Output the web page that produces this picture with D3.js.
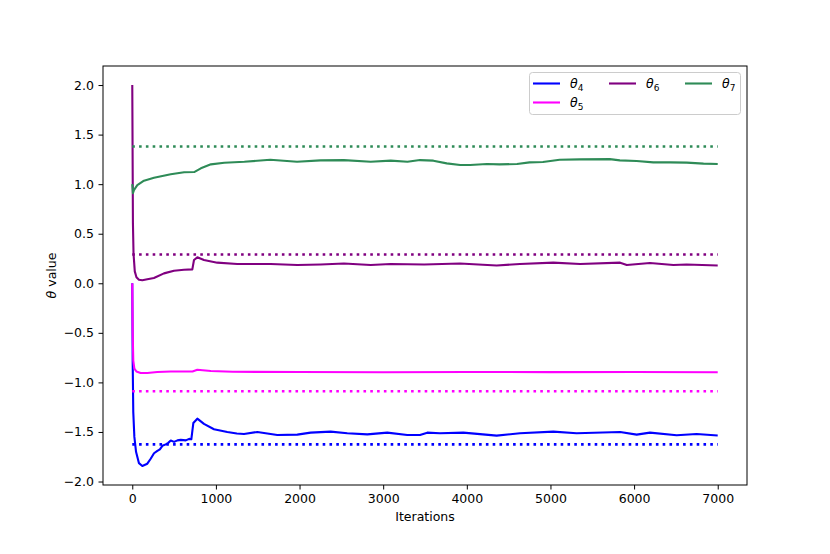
<!DOCTYPE html>
<html><head><meta charset="utf-8">
<script src="https://cdn.jsdelivr.net/npm/d3@7/dist/d3.min.js"></script>
<style>body{margin:0;background:#fff;} svg{display:block;font-family:"DejaVu Sans",sans-serif;}</style>
</head><body>
<script>
// iterations and values for each parameter trace
const theta4 = [[0,0.0],[5,-0.8],[12,-1.3],[25,-1.55],[45,-1.70],[80,-1.815],[120,-1.843],[180,-1.82],[220,-1.77],[260,-1.715],[300,-1.69],[330,-1.675],[360,-1.64],[400,-1.625],[430,-1.61],[460,-1.587],[500,-1.60],[540,-1.585],[580,-1.58],[640,-1.585],[680,-1.57],[706,-1.574],[730,-1.41],[778,-1.366],[857,-1.419],[977,-1.473],[1136,-1.50],[1250,-1.515],[1336,-1.52],[1495,-1.50],[1734,-1.53],[1973,-1.527],[2133,-1.507],[2372,-1.497],[2571,-1.513],[2810,-1.524],[3049,-1.507],[3288,-1.53],[3440,-1.53],[3527,-1.507],[3679,-1.513],[3958,-1.507],[4357,-1.537],[4635,-1.513],[5034,-1.497],[5313,-1.513],[5833,-1.50],[6031,-1.527],[6190,-1.507],[6509,-1.533],[6747,-1.52],[7000,-1.535]];
const theta5 = [[0,0.0],[5,-0.5],[12,-0.78],[25,-0.86],[50,-0.89],[100,-0.905],[180,-0.905],[300,-0.895],[460,-0.89],[720,-0.89],[778,-0.872],[940,-0.885],[1200,-0.893],[2000,-0.895],[3000,-0.897],[4000,-0.895],[5000,-0.896],[6000,-0.895],[7000,-0.897]];
const theta6 = [[0,2.0],[8,0.6],[15,0.3],[30,0.12],[50,0.06],[80,0.035],[120,0.03],[180,0.04],[259,0.053],[379,0.10],[499,0.127],[618,0.137],[718,0.14],[738,0.235],[778,0.262],[857,0.235],[1016,0.208],[1255,0.195],[1655,0.195],[1973,0.185],[2253,0.19],[2531,0.20],[2850,0.185],[3089,0.195],[3490,0.19],[3918,0.20],[4357,0.18],[4635,0.195],[5034,0.208],[5355,0.195],[5833,0.208],[5913,0.185],[6190,0.205],[6470,0.185],[6628,0.19],[7000,0.18]];
const theta7 = [[0,1.0],[8,0.91],[20,0.94],[60,0.99],[140,1.035],[260,1.065],[460,1.10],[620,1.12],[740,1.122],[820,1.16],[940,1.20],[1100,1.216],[1340,1.226],[1650,1.247],[1970,1.226],[2250,1.24],[2530,1.243],[2850,1.226],[3090,1.237],[3290,1.226],[3440,1.243],[3600,1.237],[3760,1.21],[3920,1.193],[4040,1.193],[4240,1.203],[4390,1.20],[4600,1.203],[4750,1.22],[4910,1.223],[5110,1.247],[5350,1.25],[5710,1.253],[5830,1.24],[6030,1.233],[6230,1.22],[6430,1.22],[6630,1.217],[6830,1.207],[7000,1.203]];
const trueValues = [-1.625, -1.09, 0.29, 1.38];
const seriesNames = ["4","5","6","7"];
const seriesColors = ["#0000ff","#ff00ff","#800080","#2e8b57"];
const xTicks = [0,1000,2000,3000,4000,5000,6000,7000];
const yTicks = [-2.0,-1.5,-1.0,-0.5,0.0,0.5,1.0,1.5,2.0];
const xExtent = [0, 7000];

const W = 830, H = 554;
const L = 103, R = 747, T = 66, B = 485;
const svg = d3.select("body").append("svg").attr("width", W).attr("height", H);

const all = [theta4,theta5,theta6,theta7];
const ymin = d3.min(all, s => d3.min(s, d => d[1]));
const ymax = d3.max(all, s => d3.max(s, d => d[1]));
const yr = ymax - ymin;
const xr = xExtent[1] - xExtent[0];
const x = d3.scaleLinear().domain([xExtent[0] - 0.05*xr, xExtent[1] + 0.05*xr]).range([L, R]);
const y = d3.scaleLinear().domain([ymin - 0.05*yr, ymax + 0.05*yr]).range([B, T]);

const fmtY = d => d3.format(".1f")(d).replace("-", "\u2212");

const gx = svg.append("g").attr("transform", `translate(0,${B})`)
  .call(d3.axisBottom(x).tickValues(xTicks).tickFormat(d3.format("d")).tickSize(4.5).tickPadding(4.5));
const gy = svg.append("g").attr("transform", `translate(${L},0)`)
  .call(d3.axisLeft(y).tickValues(yTicks).tickFormat(fmtY).tickSize(4.5).tickPadding(4.5));
[gx, gy].forEach(g => {
  g.select(".domain").remove();
  g.selectAll(".tick line").attr("stroke", "#000").attr("stroke-width", 1);
  g.selectAll(".tick text").attr("fill", "#000").style("font-size", "12.5px").style("font-family", "DejaVu Sans");
});

const line = d3.line().x(d => x(d[0])).y(d => y(d[1]));
const plot = svg.append("g");
all.forEach((s, i) => {
  plot.append("path").datum(s).attr("d", line).attr("fill", "none")
    .attr("stroke", seriesColors[i]).attr("stroke-width", 2.1).attr("stroke-linejoin", "round");
});
trueValues.forEach((v, i) => {
  plot.append("line").attr("x1", x(xExtent[0])).attr("x2", x(xExtent[1]))
    .attr("y1", y(v)).attr("y2", y(v))
    .attr("stroke", seriesColors[i]).attr("stroke-width", 2.6).attr("stroke-dasharray", "2.6,4.2");
});

svg.append("rect").attr("x", L).attr("y", T).attr("width", R - L).attr("height", B - T)
  .attr("fill", "none").attr("stroke", "#000").attr("stroke-width", 1);

svg.append("text").attr("x", (L + R) / 2).attr("y", 521).attr("text-anchor", "middle")
  .style("font-size", "12.5px").text("Iterations");
const yl = svg.append("text").attr("transform", `translate(56,${(T + B) / 2}) rotate(-90)`)
  .attr("text-anchor", "middle").style("font-size", "12.5px");
yl.append("tspan").style("font-style", "italic").text("θ");
yl.append("tspan").text(" value");

// legend
const lg = svg.append("g");
lg.append("rect").attr("x", 529.5).attr("y", 72.5).attr("width", 211).attr("height", 42).attr("rx", 3)
  .attr("fill", "#fff").attr("fill-opacity", 0.8).attr("stroke", "#cccccc").attr("stroke-width", 1);
const pos = [[533, 83.5], [533, 102.5], [609, 83.5], [685, 83.5]];
seriesNames.forEach((n, i) => {
  const [px, py] = pos[i];
  lg.append("line").attr("x1", px).attr("x2", px + 27).attr("y1", py).attr("y2", py)
    .attr("stroke", seriesColors[i]).attr("stroke-width", 2.1);
  const t = lg.append("text").attr("x", px + 37).attr("y", py + 4.5).style("font-size", "12.5px");
  t.append("tspan").style("font-style", "italic").text("θ");
  t.append("tspan").attr("dy", 3).style("font-size", "9px").text(n);
});
</script>
</body></html>
